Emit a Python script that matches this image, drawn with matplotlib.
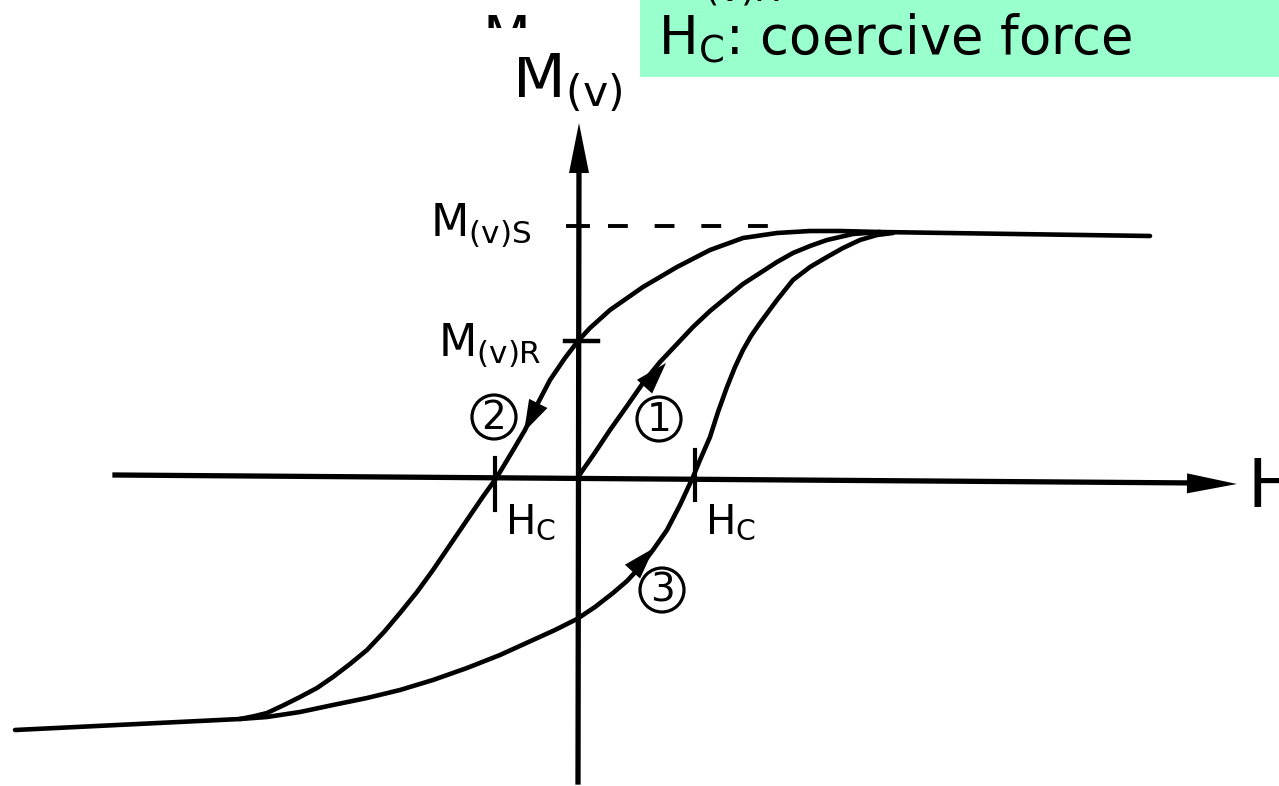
import matplotlib.pyplot as plt
from matplotlib.patches import Circle, Rectangle

# Hysteresis loop, H to the right, M(v) up, origin where the axes cross
# (values in drawing units of the diagram)
initial_h = [0, 16, 32, 49, 65, 82, 99, 115, 132, 149, 165, 182, 199, 215,
             232, 249, 275, 302]
initial_m = [0, 23, 47, 71, 94, 115, 133, 150, 166, 180, 193, 204, 215, 224,
             231, 237, 243, 245]

desc_h = [302, 262, 232, 199, 165, 132, 99, 65, 32, 12, 0, -13, -28, -40,
          -53, -66, -81, -96, -111, -128, -145, -161, -178, -194, -211,
          -228, -245, -261, -278, -294, -311, -323, -338]
desc_m = [245, 246, 246, 244, 239, 227, 210, 190, 167, 149, 136, 119, 97, 74,
          47, 25, 0, -21, -43, -68, -93, -115, -136, -155, -173,
          -187, -200, -211, -220, -228, -236, -239, -242]

asc_h = [-338, -311, -278, -245, -211, -178, -145, -111, -78, -45, -23, -1,
         17, 35, 49, 62, 75, 89, 102, 115, 122, 132, 140, 149, 157, 165, 173,
         182, 199, 215, 232, 249, 265, 282, 299, 315]
asc_m = [-242, -240, -235, -228, -221, -213, -203, -191, -178, -163, -153,
         -142, -130, -116, -104, -90, -73, -53, -28, 0, 17, 40, 65, 90, 110,
         127, 141, 154, 177, 197, 210, 220, 229, 237, 242, 244]

sat_right_h = [302, 572]
sat_right_m = [245, 241]
sat_left_h = [-563, -338]
sat_left_m = [-253, -242]

m_sat = 251
m_rem = 136
h_coer = [-83, 117]

# direction arrows on the branches: (tail, tip)
branch_arrows = [((49, 71), (88, 114)),
                 ((-28, 97), (-54, 45)),
                 ((35, -116), (76, -71))]
# circled path numbers
markers = [('1', 81, 58), ('2', -84, 60), ('3', 84, -113)]

fig = plt.figure(figsize=(12.79, 7.86), dpi=100)
ax = fig.add_axes([0, 0, 1, 1])
ax.set_xlim(-578, 701)
ax.set_ylim(-309, 477)
ax.axis('off')

ink = 'black'
line_kw = dict(color=ink, lw=3.3, solid_capstyle='round', solid_joinstyle='round')

# axes
ax.plot([-463, 622], [2, -6], color=ink, lw=3.8)
ax.plot([0, 1], [-305, 320], color=ink, lw=3.8)
head_axis = dict(arrowstyle='-|>,head_length=0.9,head_width=0.18',
                 mutation_scale=40, color=ink, lw=0, shrinkA=0, shrinkB=0)
ax.annotate('', xy=(659, -7), xytext=(580, -6), arrowprops=head_axis)
ax.annotate('', xy=(1, 354), xytext=(1, 280), arrowprops=head_axis)

# loop
ax.plot(initial_h, initial_m, **line_kw)
ax.plot(desc_h, desc_m, **line_kw)
ax.plot(asc_h, asc_m, **line_kw)
ax.plot(sat_right_h, sat_right_m, **line_kw)
ax.plot(sat_left_h, sat_left_m, **line_kw)

head_branch = dict(arrowstyle='-|>,head_length=0.5,head_width=0.16',
                   mutation_scale=46, color=ink, lw=0, shrinkA=0, shrinkB=0)
for tail, tip in branch_arrows:
    ax.annotate('', xy=tip, xytext=tail, arrowprops=head_branch)

# saturation level, remanence and coercive marks
ax.plot([30, 200], [m_sat, m_sat], color=ink, lw=2.8, ls=(0, (5.1, 6.9)))
ax.plot([-10, 10], [m_sat, m_sat], color=ink, lw=2.8)
ax.plot([-13, 20], [m_rem, m_rem], color=ink, lw=3.2)
ax.plot([h_coer[0], h_coer[0]], [19, -33], color=ink, lw=3.0)
ax.plot([h_coer[1], h_coer[1]], [27, -23], color=ink, lw=3.0)

for digit, h, m in markers:
    ax.add_patch(Circle((h, m), 22, fill=False, ec=ink, lw=2.3))
    ax.text(h, m - 1, digit, ha='center', va='center', fontsize=28,
            family='DejaVu Sans')

lab = dict(family='DejaVu Sans', color=ink, va='baseline', ha='left')
ax.text(-66, 380, r'M$_\mathregular{(v)}$', fontsize=44, **lab)
ax.text(-148, 240, r'M$_\mathregular{(v)S}$', fontsize=32, **lab)
ax.text(-140, 120, r'M$_\mathregular{(v)R}$', fontsize=32, **lab)
for hc in h_coer:
    ax.text(hc + 10, -56, r'H$_\mathregular{C}$', fontsize=29, **lab)
ax.text(670, -30, 'H', fontsize=48, **lab)

# leftover letter at the top edge, partly covered
ax.text(-96, 464, 'M', fontsize=40, family='DejaVu Sans', va='top', ha='left')
ax.add_patch(Rectangle((-100, 420), 70, 29, fc='white', ec='none', zorder=5))

# legend box
ax.add_patch(Rectangle((62, 400), 700, 100, fc='#99FFCC', ec='none', zorder=6))
ax.text(80, 422, r'H$_\mathregular{C}$: coercive force', fontsize=38,
        family='DejaVu Sans', va='baseline', ha='left', zorder=7)
ax.text(80, 484, r'M$_\mathregular{(v)R}$: remanence', fontsize=38,
        family='DejaVu Sans', va='baseline', ha='left', zorder=7, clip_on=False)

fig.savefig('out.png', dpi=100)
